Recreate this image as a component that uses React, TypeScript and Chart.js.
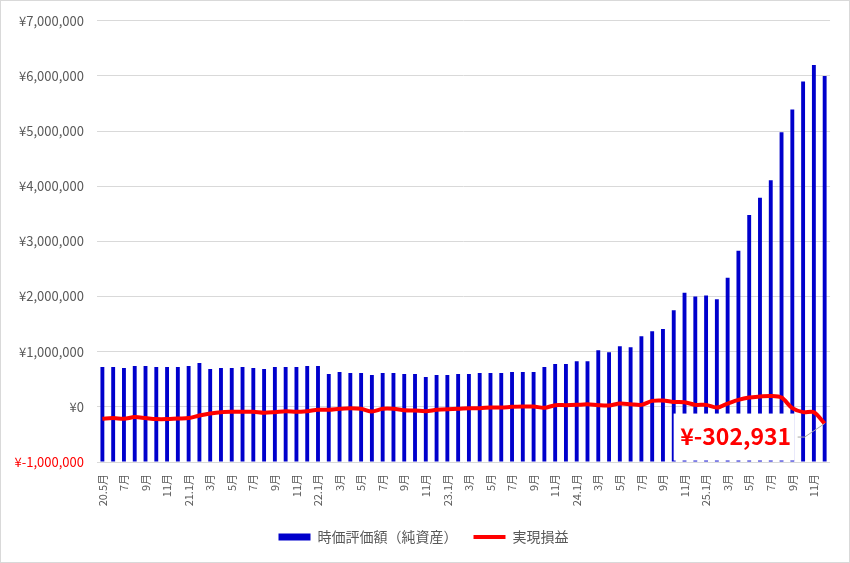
import React, { useEffect, useRef } from "react";
import { Chart, registerables } from "chart.js";

Chart.register(...registerables);

const categories: string[] = [
  "20.5月", "6月", "7月", "8月", "9月", "10月", "11月", "12月",
  "21.1月", "2月", "3月", "4月", "5月", "6月", "7月", "8月", "9月", "10月", "11月", "12月",
  "22.1月", "2月", "3月", "4月", "5月", "6月", "7月", "8月", "9月", "10月", "11月", "12月",
  "23.1月", "2月", "3月", "4月", "5月", "6月", "7月", "8月", "9月", "10月", "11月", "12月",
  "24.1月", "2月", "3月", "4月", "5月", "6月", "7月", "8月", "9月", "10月", "11月", "12月",
  "25.1月", "2月", "3月", "4月", "5月", "6月", "7月", "8月", "9月", "10月", "11月", "12月",
];

// 時価評価額(純資産)
const netAssets: number[] = [
  721000, 721000, 703000, 739000, 739000, 721000, 721000, 721000,
  739000, 793000, 685000, 703000, 703000, 721000, 703000, 685000, 721000, 721000, 721000, 739000,
  739000, 595000, 631000, 613000, 613000, 577000, 613000, 613000, 595000, 595000, 541000, 577000,
  577000, 595000, 595000, 613000, 613000, 613000, 631000, 631000, 631000, 721000, 775000, 775000,
  829000, 829000, 1027000, 991000, 1099000, 1081000, 1279000, 1370000, 1410000, 1750000, 2070000, 2000000,
  2020000, 1950000, 2340000, 2830000, 3480000, 3790000, 4110000, 4980000, 5390000, 5900000, 6200000, 6000000,
];

// 実現損益
const realizedPL: number[] = [
  -216000, -204000, -216000, -186000, -204000, -222000, -222000, -210000,
  -204000, -156000, -120000, -96000, -90000, -90000, -90000, -108000, -96000, -78000, -90000, -78000,
  -54000, -54000, -36000, -24000, -36000, -84000, -36000, -36000, -60000, -66000, -78000, -54000,
  -42000, -36000, -24000, -24000, -12000, -12000, 0, 6000, 6000, -18000, 30000, 30000,
  36000, 45000, 30000, 24000, 60000, 48000, 36000, 108000, 114000, 90000, 84000, 36000,
  36000, -12000, 60000, 126000, 168000, 186000, 198000, 168000, -24000, -96000, -96000, -302931,
];

const seriesNames = ["時価評価額（純資産）", "実現損益"];
const yTicks = { min: -1000000, max: 7000000, step: 1000000 };

const FONT = '"Noto Sans CJK JP", "Noto Sans", sans-serif';
const GRAY = "#595959";

const fmtYen = (v: number) => "¥" + (v < 0 ? "-" : "") + Math.abs(v).toLocaleString("en-US");

export default function App() {
  const ref = useRef<HTMLCanvasElement | null>(null);

  useEffect(() => {
    if (!ref.current) return;

    const frame = {
      id: "frame",
      beforeDraw(chart: any) {
        const { ctx, width, height } = chart;
        ctx.save();
        ctx.fillStyle = "#ffffff";
        ctx.fillRect(0, 0, width, height);
        ctx.strokeStyle = "#d9d9d9";
        ctx.lineWidth = 1;
        ctx.strokeRect(0.5, 0.5, width - 1, height - 1);
        ctx.restore();
      },
    };

    const legendShift = {
      id: "legendShift",
      afterLayout(chart: any) {
        const lg = chart.legend;
        if (lg) {
          lg.left += 8;
          lg.right += 8;
        }
      },
    };

    const lastLabel = {
      id: "lastLabel",
      afterDatasetsDraw(chart: any) {
        const meta = chart.getDatasetMeta(1);
        const pt = meta.data[meta.data.length - 1];
        if (!pt) return;
        const px = pt.x;
        const py = pt.y;
        const ctx = chart.ctx;
        ctx.save();
        ctx.fillStyle = "#ffffff";
        ctx.fillRect(px - 151, py - 10, 121, 47);
        ctx.strokeStyle = "#a6a6a6";
        ctx.lineWidth = 1;
        ctx.beginPath();
        ctx.moveTo(px - 27, py + 13.5);
        ctx.lineTo(px - 20, py + 13.5);
        ctx.lineTo(px, py);
        ctx.stroke();
        ctx.fillStyle = "#ff0000";
        ctx.font = `bold 23px ${FONT}`;
        ctx.textAlign = "center";
        ctx.textBaseline = "middle";
        ctx.fillText(fmtYen(realizedPL[realizedPL.length - 1]), px - 89, py + 13);
        ctx.restore();
      },
    };

    const chart = new Chart(ref.current, {
      type: "bar",
      data: {
        labels: categories,
        datasets: [
          {
            type: "bar",
            label: seriesNames[0],
            data: netAssets,
            base: yTicks.min,
            backgroundColor: "#0000cc",
            borderWidth: 0,
            categoryPercentage: 1,
            barPercentage: 0.36,
            order: 2,
          } as any,
          {
            type: "line",
            label: seriesNames[1],
            data: realizedPL,
            borderColor: "#ff0000",
            backgroundColor: "#ff0000",
            borderWidth: 4,
            pointRadius: 0,
            tension: 0.3,
            order: 1,
          } as any,
        ],
      },
      plugins: [frame, legendShift, lastLabel],
      options: {
        animation: false,
        responsive: false,
        devicePixelRatio: 1,
        layout: { padding: { left: 0, right: 19, top: 19, bottom: 9 } },
        plugins: {
          tooltip: { enabled: false },
          legend: {
            position: "bottom",
            labels: {
              usePointStyle: true,
              pointStyleWidth: 32,
              boxHeight: 7,
              padding: 16,
              color: GRAY,
              font: { family: FONT, size: 14 },
              generateLabels: (chart: any) =>
                chart.data.datasets.map((ds: any, i: number) => ({
                  text: ds.label,
                  fillStyle: i === 0 ? "#0000cc" : "#ff0000",
                  strokeStyle: i === 0 ? "#0000cc" : "#ff0000",
                  lineWidth: i === 0 ? 0 : 4,
                  pointStyle: i === 0 ? "rect" : "line",
                  fontColor: GRAY,
                  datasetIndex: i,
                  hidden: false,
                })),
            },
          },
        },
        scales: {
          x: {
            grid: { display: false, drawTicks: false },
            border: { display: false },
            ticks: {
              autoSkip: false,
              minRotation: 90,
              maxRotation: 90,
              padding: 12,
              color: GRAY,
              font: { family: FONT, size: 11 },
              callback: (_v: any, i: number) => (i % 2 === 0 ? categories[i] : ""),
            },
            afterFit: (s: any) => {
              s.height = 52;
            },
          },
          y: {
            min: yTicks.min,
            max: yTicks.max,
            grid: { color: "#d9d9d9", drawTicks: false },
            border: { display: false },
            ticks: {
              stepSize: yTicks.step,
              padding: 13,
              font: { family: FONT, size: 13 },
              color: (c: any) => (c.tick && c.tick.value < 0 ? "#ff0000" : GRAY),
              callback: (v: any) => fmtYen(Number(v)),
            },
            afterFit: (s: any) => {
              s.width = 97;
            },
          },
        },
      } as any,
    });

    return () => chart.destroy();
  }, []);

  return (
    <div style={{ position: "fixed", left: 0, top: 0, width: 850, height: 563 }}>
      <canvas ref={ref} width={850} height={563} style={{ display: "block" }} />
    </div>
  );
}
